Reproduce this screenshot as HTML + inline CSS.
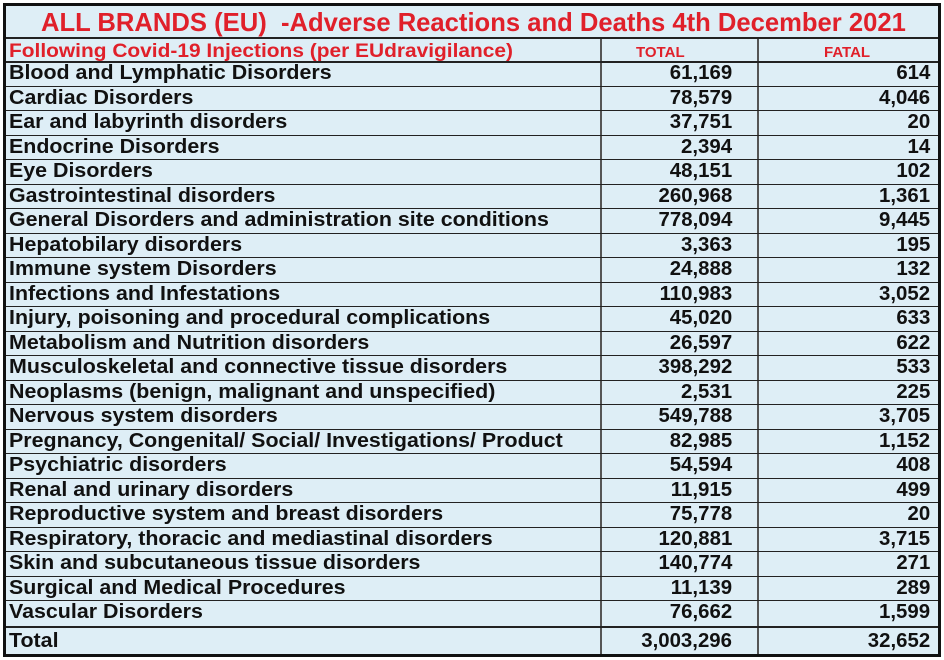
<!DOCTYPE html>
<html><head><meta charset="utf-8"><style>
body{margin:0;width:944px;height:660px;background:#fff;overflow:hidden;font-family:"Liberation Sans",sans-serif;font-weight:bold}
#t{position:absolute;left:3px;top:3px;width:932px;height:648px;border:3px solid #111;background:#deeef6}
.h{position:absolute;left:0;width:932px;border-top:2px solid #222}
.v{position:absolute;top:33px;bottom:0;border-left:2px solid #555}
.l{position:absolute;left:3px;font-size:20px;color:#111;transform:scaleX(1.07);transform-origin:left center;white-space:nowrap}
.n{position:absolute;font-size:20px;color:#111;transform:scaleX(1.02);transform-origin:right center;white-space:nowrap;text-align:right}
.r{color:#e0202a}
</style></head><body><div id="t">
<div class="l r" style="left:35px;top:1px;font-size:26px;transform:scaleX(.985)">ALL BRANDS (EU)&nbsp; -Adverse Reactions and Deaths 4th December 2021</div>
<div class="h" style="top:31px"></div>
<div class="l r" style="top:35px;font-size:19px;transform:scaleX(1.1)">Following Covid-19 Injections (per EUdravigilance)</div>
<div class="r" style="position:absolute;left:630px;top:38px;font-size:15px">TOTAL</div>
<div class="r" style="position:absolute;left:818px;top:38px;font-size:15px">FATAL</div>
<div class="v" style="left:594px"></div><div class="v" style="left:751px"></div>
<div id="rows"></div>
</div>
<script>
var d=[["Blood and Lymphatic Disorders","61,169","614"],["Cardiac Disorders","78,579","4,046"],["Ear and labyrinth disorders","37,751","20"],["Endocrine Disorders","2,394","14"],["Eye Disorders","48,151","102"],["Gastrointestinal disorders","260,968","1,361"],["General Disorders and administration site conditions","778,094","9,445"],["Hepatobilary disorders","3,363","195"],["Immune system Disorders","24,888","132"],["Infections and Infestations","110,983","3,052"],["Injury, poisoning and procedural complications","45,020","633"],["Metabolism and Nutrition disorders","26,597","622"],["Musculoskeletal and connective tissue disorders","398,292","533"],["Neoplasms (benign, malignant and unspecified)","2,531","225"],["Nervous system disorders","549,788","3,705"],["Pregnancy, Congenital/ Social/ Investigations/ Product","82,985","1,152"],["Psychiatric disorders","54,594","408"],["Renal and urinary disorders","11,915","499"],["Reproductive system and breast disorders","75,778","20"],["Respiratory, thoracic and mediastinal disorders","120,881","3,715"],["Skin and subcutaneous tissue disorders","140,774","271"],["Surgical and Medical Procedures","11,139","289"],["Vascular Disorders","76,662","1,599"],["Total","3,003,296","32,652"]];
var h="";for(var i=0;i<d.length;i++){var y=57+i*24.5;if(i==23)y+=1;
h+='<div class="h" style="top:'+(y-2)+'px;border-top-width:'+(i==0||i==23?2:1)+'px"></div>';
h+='<div class="l" style="top:'+(y-1+(i==23?3:0))+'px">'+d[i][0]+'</div>';
h+='<div class="n" style="right:206px;top:'+(y-1+(i==23?3:0))+'px">'+d[i][1]+'</div>';
h+='<div class="n" style="right:8px;top:'+(y-1+(i==23?3:0))+'px">'+d[i][2]+'</div>';}
document.getElementById("rows").innerHTML=h;
</script></body></html>
